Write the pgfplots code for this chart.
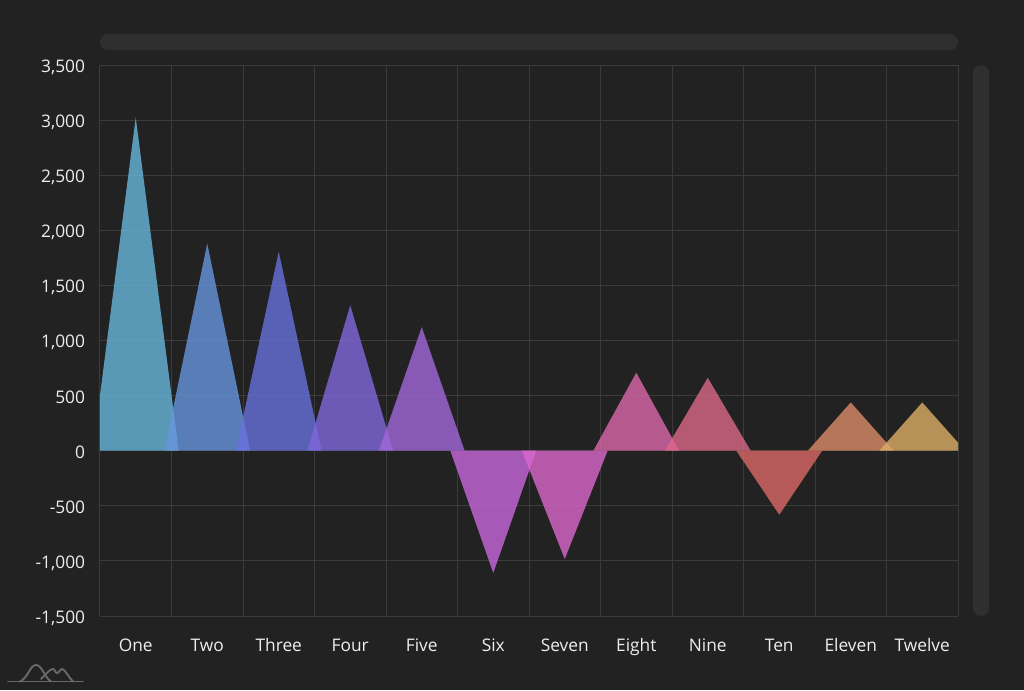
\documentclass[border=0pt]{standalone}
\usepackage{pgfplots}
\pgfplotsset{compat=1.18}
\usepackage{fontspec}
\setmainfont{Open Sans}

\definecolor{bg}{HTML}{222222}
\definecolor{gridc}{HTML}{3B3B3B}
\definecolor{scroll}{HTML}{2F2F2F}
\definecolor{lbl}{HTML}{EEEEEE}
\definecolor{logo}{HTML}{6A6A6A}
% amCharts default palette
\definecolor{c1}{HTML}{67B7DC}
\definecolor{c2}{HTML}{6794DC}
\definecolor{c3}{HTML}{6771DC}
\definecolor{c4}{HTML}{8067DC}
\definecolor{c5}{HTML}{A367DC}
\definecolor{c6}{HTML}{C767DC}
\definecolor{c7}{HTML}{DC67CE}
\definecolor{c8}{HTML}{DC67AB}
\definecolor{c9}{HTML}{DC6788}
\definecolor{c10}{HTML}{DC6967}
\definecolor{c11}{HTML}{DC8C67}
\definecolor{c12}{HTML}{DCAF67}

\pgfplotsset{tri/.style={draw=none, fill opacity=0.8, forget plot}}

\begin{document}
\begin{tikzpicture}[x=0.75pt,y=0.75pt]
% canvas, 1 unit = 1 px of the reference
\fill[bg] (-100,-74) rectangle (924,616);
\path[use as bounding box] (-100,-74) rectangle (924,616);
% scrollbars
\fill[scroll, rounded corners=6pt] (0,566) rectangle (858,582);
\fill[scroll, rounded corners=6pt] (873,0) rectangle (889,551);
% logo
\begin{scope}[logo, line width=1.4pt, line cap=round]
\draw (-92,-65.5) -- (-17,-65.5);
\draw (-80,-65.5) .. controls (-72,-62) and (-70,-49) .. (-64,-49)
  .. controls (-58,-49) and (-55,-62) .. (-49,-65.5);
\draw (-59,-63) .. controls (-54,-58) and (-50,-53) .. (-47,-53)
  .. controls (-45,-53) and (-45,-57) .. (-43,-57)
  .. controls (-41,-57) and (-40,-53) .. (-38,-53)
  .. controls (-35,-53) and (-31,-62) .. (-27,-65.5);
\end{scope}

\begin{axis}[
    at={(0,0)}, anchor=south west,
    scale only axis,
    width=643.5pt, height=413.25pt,
    xmin=0.5, xmax=12.5,
    ymin=-1500, ymax=3500,
    xtick={1,2,3,4,5,6,7,8,9,10,11,12},
    xticklabels={One,Two,Three,Four,Five,Six,Seven,Eight,Nine,Ten,Eleven,Twelve},
    minor xtick={0.5,1.5,2.5,3.5,4.5,5.5,6.5,7.5,8.5,9.5,10.5,11.5,12.5},
    ytick={-1500,-1000,-500,0,500,1000,1500,2000,2500,3000,3500},
    xmajorgrids=false, xminorgrids=true, ymajorgrids=true,
    grid style={gridc, line width=0.75pt},
    minor grid style={gridc, line width=0.75pt},
    axis line style={draw=none},
    major tick length=0pt, minor tick length=0pt,
    tick style={draw=none},
    ticklabel style={font=\fontsize{13}{15}\selectfont, text=lbl},
    yticklabel style={anchor=base east, inner sep=0pt, xshift=-11pt, yshift=-5.6pt},
    xticklabel style={anchor=base, inner sep=0pt, yshift=-26.25pt},
    /pgf/number format/.cd, 1000 sep={,}, assume math mode=true,
]
\addplot[tri, fill=c1]  coordinates {(0.4,0) (1,3025) (1.6,0)};
\addplot[tri, fill=c2]  coordinates {(1.4,0) (2,1880) (2.6,0)};
\addplot[tri, fill=c3]  coordinates {(2.4,0) (3,1806) (3.6,0)};
\addplot[tri, fill=c4]  coordinates {(3.4,0) (4,1320) (4.6,0)};
\addplot[tri, fill=c5]  coordinates {(4.4,0) (5,1122) (5.6,0)};
\addplot[tri, fill=c6]  coordinates {(5.4,0) (6,-1110) (6.6,0)};
\addplot[tri, fill=c7]  coordinates {(6.4,0) (7,-983) (7.6,0)};
\addplot[tri, fill=c8]  coordinates {(7.4,0) (8,708) (8.6,0)};
\addplot[tri, fill=c9]  coordinates {(8.4,0) (9,662) (9.6,0)};
\addplot[tri, fill=c10] coordinates {(9.4,0) (10,-581) (10.6,0)};
\addplot[tri, fill=c11] coordinates {(10.4,0) (11,438) (11.6,0)};
\addplot[tri, fill=c12] coordinates {(11.4,0) (12,438) (12.6,0)};
\end{axis}
\end{tikzpicture}
\end{document}
